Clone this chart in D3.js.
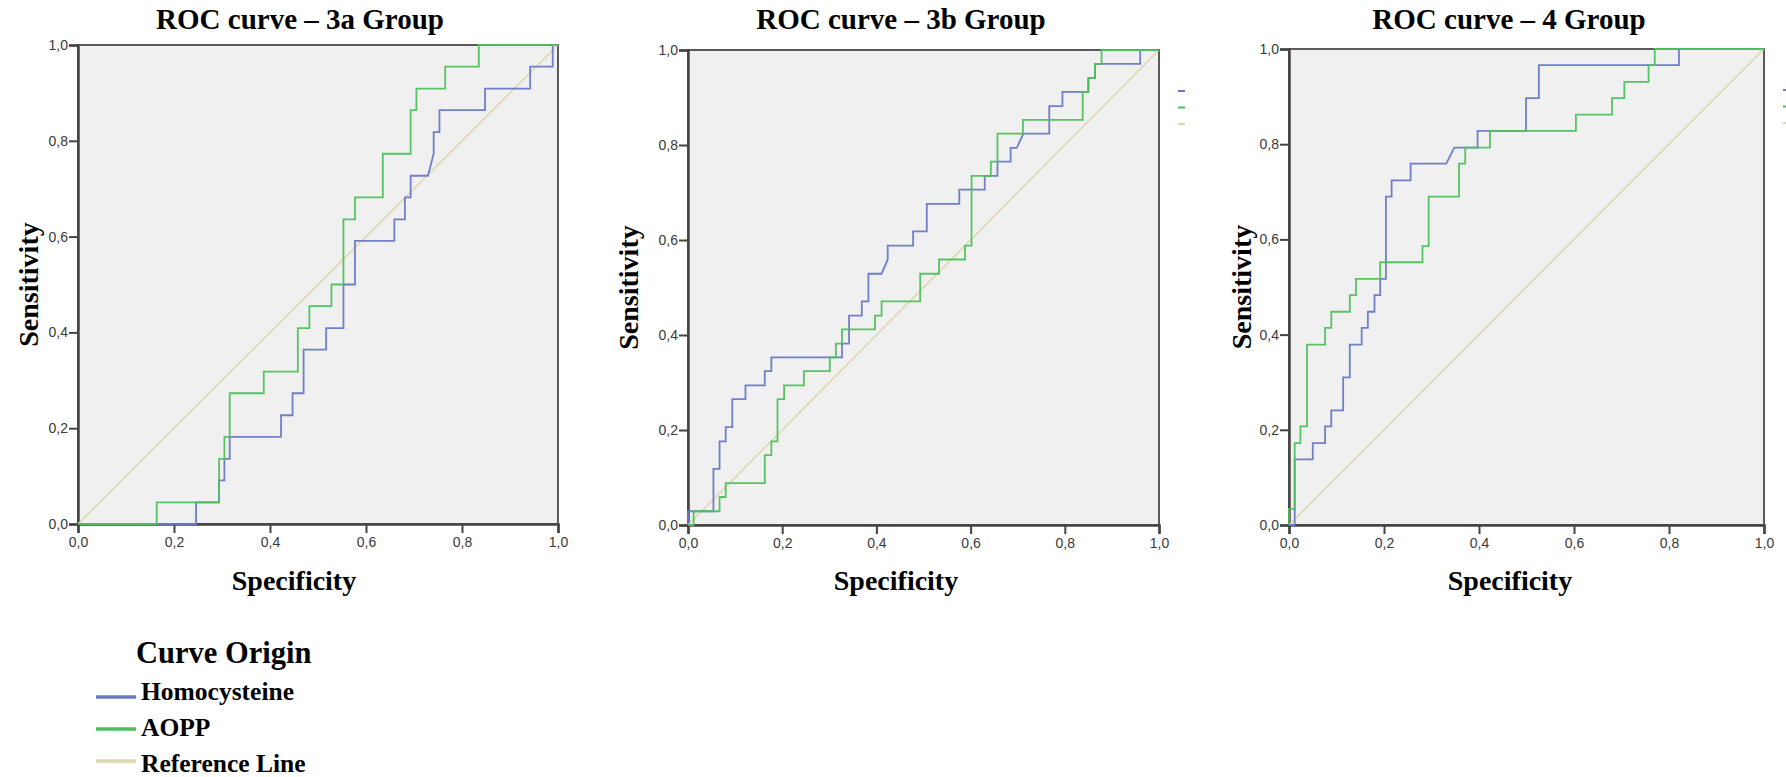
<!DOCTYPE html>
<html>
<head>
<meta charset="utf-8">
<script src="https://cdn.jsdelivr.net/npm/d3@7"></script>
<style>
  body { margin: 0; background: #fff; }
  svg text { font-family: "Liberation Serif", "Times New Roman", serif; font-weight: bold; }
  .tick text { font-family: "Liberation Sans", Arial, sans-serif; font-weight: normal; }
</style>
</head>
<body>
<div id="chart"></div>
<script>
// ******************************** DATA ***************************************
var tickValues = [0, 0.2, 0.4, 0.6, 0.8, 1.0];
var panelTitles = ["ROC curve \u2013 3a Group", "ROC curve \u2013 3b Group", "ROC curve \u2013 4 Group"];
var seriesNames = ["Homocysteine", "AOPP", "Reference Line"];
var seriesColors = ["#6878c6", "#4cc15a", "#ddd8b0"];

// [1 - specificity, sensitivity] vertices
var hcy3a = [[0,0],[0.246,0],[0.246,0.045],[0.294,0.045],[0.294,0.091],[0.305,0.091],[0.305,0.136],
  [0.316,0.136],[0.316,0.182],[0.423,0.182],[0.423,0.227],[0.447,0.227],[0.447,0.273],[0.470,0.273],
  [0.470,0.364],[0.517,0.364],[0.517,0.409],[0.553,0.409],[0.553,0.5],[0.577,0.5],[0.577,0.591],
  [0.659,0.591],[0.659,0.636],[0.681,0.636],[0.681,0.682],[0.693,0.682],[0.693,0.727],[0.729,0.727],
  [0.741,0.773],[0.741,0.818],[0.753,0.818],[0.753,0.864],[0.848,0.864],[0.848,0.909],[0.942,0.909],
  [0.942,0.955],[0.989,0.955],[0.989,1],[1,1]];
var aopp3a = [[0,0],[0.164,0],[0.164,0.045],[0.294,0.045],[0.294,0.136],[0.305,0.136],[0.305,0.182],
  [0.316,0.182],[0.316,0.273],[0.387,0.273],[0.387,0.318],[0.458,0.318],[0.458,0.409],[0.482,0.409],
  [0.482,0.455],[0.528,0.455],[0.528,0.5],[0.553,0.5],[0.553,0.636],[0.577,0.636],[0.577,0.682],
  [0.635,0.682],[0.635,0.773],[0.693,0.773],[0.693,0.864],[0.705,0.864],[0.705,0.909],[0.765,0.909],
  [0.765,0.955],[0.835,0.955],[0.835,1],[1,1]];

var hcy3b = [[0,0],[0,0.029],[0.054,0.029],[0.054,0.118],[0.067,0.118],[0.067,0.176],[0.080,0.176],
  [0.080,0.206],[0.094,0.206],[0.094,0.265],[0.122,0.265],[0.122,0.294],[0.163,0.294],[0.163,0.324],
  [0.177,0.324],[0.177,0.353],[0.327,0.353],[0.327,0.382],[0.342,0.382],[0.342,0.441],[0.369,0.441],
  [0.369,0.471],[0.383,0.471],[0.383,0.529],[0.411,0.529],[0.424,0.559],[0.424,0.588],[0.478,0.588],
  [0.478,0.618],[0.507,0.618],[0.507,0.676],[0.576,0.676],[0.576,0.706],[0.630,0.706],[0.630,0.735],
  [0.657,0.735],[0.657,0.765],[0.685,0.765],[0.685,0.794],[0.698,0.794],[0.712,0.824],[0.767,0.824],
  [0.767,0.882],[0.795,0.882],[0.795,0.912],[0.850,0.912],[0.850,0.941],[0.864,0.941],[0.864,0.971],
  [0.960,0.971],[0.960,1],[1,1]];
var aopp3b = [[0,0],[0.012,0],[0.012,0.029],[0.067,0.029],[0.067,0.059],[0.080,0.059],[0.080,0.088],
  [0.163,0.088],[0.163,0.147],[0.177,0.147],[0.177,0.176],[0.190,0.176],[0.190,0.265],[0.204,0.265],
  [0.204,0.294],[0.246,0.294],[0.246,0.324],[0.301,0.324],[0.301,0.353],[0.314,0.353],[0.314,0.382],
  [0.327,0.382],[0.327,0.412],[0.397,0.412],[0.397,0.441],[0.411,0.441],[0.411,0.471],[0.493,0.471],
  [0.493,0.529],[0.533,0.529],[0.533,0.559],[0.588,0.559],[0.588,0.588],[0.602,0.588],[0.602,0.735],
  [0.643,0.735],[0.643,0.765],[0.657,0.765],[0.657,0.824],[0.711,0.824],[0.711,0.853],[0.838,0.853],
  [0.838,0.912],[0.850,0.912],[0.850,0.941],[0.864,0.941],[0.864,0.971],[0.878,0.971],[0.878,1],[1,1]];

var hcy4 = [[0,0],[0.012,0],[0.012,0.138],[0.050,0.138],[0.050,0.172],[0.076,0.172],[0.076,0.207],
  [0.089,0.207],[0.089,0.241],[0.114,0.241],[0.114,0.310],[0.128,0.310],[0.128,0.379],[0.153,0.379],
  [0.153,0.414],[0.166,0.414],[0.166,0.448],[0.180,0.448],[0.180,0.483],[0.192,0.483],[0.192,0.517],
  [0.204,0.517],[0.204,0.690],[0.216,0.690],[0.216,0.724],[0.256,0.724],[0.256,0.759],[0.331,0.759],
  [0.348,0.793],[0.397,0.793],[0.397,0.828],[0.499,0.828],[0.499,0.897],[0.526,0.897],[0.526,0.966],
  [0.821,0.966],[0.821,1],[1,1]];
var aopp4 = [[0,0],[0,0.034],[0.012,0.034],[0.012,0.172],[0.024,0.172],[0.024,0.207],[0.038,0.207],
  [0.038,0.379],[0.076,0.379],[0.076,0.414],[0.089,0.414],[0.089,0.448],[0.128,0.448],[0.128,0.483],
  [0.141,0.483],[0.141,0.517],[0.192,0.517],[0.192,0.552],[0.281,0.552],[0.281,0.586],[0.294,0.586],
  [0.294,0.690],[0.358,0.690],[0.358,0.759],[0.371,0.759],[0.371,0.793],[0.423,0.793],[0.423,0.828],
  [0.604,0.828],[0.604,0.862],[0.680,0.862],[0.680,0.897],[0.706,0.897],[0.706,0.931],[0.757,0.931],
  [0.757,0.966],[0.770,0.966],[0.770,1],[1,1]];

var referenceLine = [[0,0],[1,1]];

// ***************************** LAYOUT ****************************************
var svgWidth = 1786, svgHeight = 777;

var panels = [
  {title: panelTitles[0], curves: [hcy3a, aopp3a], left: 78, top: 45, width: 480, height: 479,
   titleX: 300, yTitleX: 38, xTitleX: 294, stubs: false},
  {title: panelTitles[1], curves: [hcy3b, aopp3b], left: 688, top: 50, width: 471, height: 475,
   titleX: 901, yTitleX: 638, xTitleX: 896, stubs: true},
  {title: panelTitles[2], curves: [hcy4, aopp4], left: 1289, top: 49, width: 475, height: 476,
   titleX: 1509, yTitleX: 1251, xTitleX: 1510, stubs: true}
];

var svg = d3.select("#chart")
  .append("svg")
    .attr("width", svgWidth)
    .attr("height", svgHeight);

var commaFormat = function(d){ return d3.format(".1f")(d).replace(".", ","); };

panels.forEach(function(p){
  var x = d3.scaleLinear().domain([0, 1]).range([0, p.width]);
  var y = d3.scaleLinear().domain([0, 1]).range([p.height, 0]);

  var g = svg.append("g")
    .attr("transform", `translate(${p.left}, ${p.top})`);

  // plot background / frame
  g.append("rect")
    .attr("width", p.width)
    .attr("height", p.height)
    .attr("fill", "#f0f0f0")
    .attr("stroke", "#5a5a5a")
    .attr("stroke-width", 2);

  // axes
  var xAxis = d3.axisBottom(x).tickValues(tickValues).tickFormat(commaFormat)
    .tickSize(9).tickPadding(4);
  var yAxis = d3.axisLeft(y).tickValues(tickValues).tickFormat(commaFormat)
    .tickSize(9).tickPadding(1);

  var gx = g.append("g")
    .attr("transform", `translate(0, ${p.height})`)
    .call(xAxis);
  var gy = g.append("g").call(yAxis);

  [gx, gy].forEach(function(a){
    a.select(".domain").attr("stroke", "#444").attr("stroke-width", 2.5);
    a.selectAll(".tick line").attr("stroke", "#444").attr("stroke-width", 2);
    a.selectAll(".tick text").attr("fill", "#3a3a3a").style("font-size", "14px");
  });

  var line = d3.line()
    .x(function(d){ return x(d[0]); })
    .y(function(d){ return y(d[1]); });

  // reference diagonal
  g.append("path")
    .datum(referenceLine)
    .attr("d", line)
    .attr("fill", "none")
    .attr("stroke", seriesColors[2])
    .attr("stroke-width", 1.6);

  // curves
  p.curves.forEach(function(c, i){
    g.append("path")
      .datum(c)
      .attr("d", line)
      .attr("fill", "none")
      .attr("stroke", seriesColors[i])
      .attr("stroke-width", 1.8)
      .attr("opacity", 0.95);
  });

  // panel title
  svg.append("text")
    .attr("x", p.titleX)
    .attr("y", 29)
    .attr("text-anchor", "middle")
    .style("font-size", "29px")
    .text(p.title);

  // y title
  svg.append("text")
    .attr("transform", `translate(${p.yTitleX}, ${p.top + p.height / 2}) rotate(-90)`)
    .attr("text-anchor", "middle")
    .style("font-size", "28px")
    .text("Sensitivity");

  // x title
  svg.append("text")
    .attr("x", p.xTitleX)
    .attr("y", 590)
    .attr("text-anchor", "middle")
    .style("font-size", "28px")
    .text("Specificity");

  // clipped legend stubs at the right of panels 2 and 3
  if (p.stubs){
    seriesColors.forEach(function(col, i){
      g.append("line")
        .attr("x1", p.width + 19)
        .attr("x2", p.width + 26)
        .attr("y1", 41 + i * 16.5)
        .attr("y2", 41 + i * 16.5)
        .attr("stroke", col)
        .attr("stroke-width", 2);
    });
  }
});

// ***************************** LEGEND ****************************************
var legend = svg.append("g");

legend.append("text")
  .attr("x", 136)
  .attr("y", 663)
  .style("font-size", "30.5px")
  .text("Curve Origin");

seriesNames.forEach(function(name, i){
  legend.append("line")
    .attr("x1", 96)
    .attr("x2", 136)
    .attr("y1", 697 + i * 32)
    .attr("y2", 697 + i * 32)
    .attr("stroke", seriesColors[i])
    .attr("stroke-width", 3.5);
  legend.append("text")
    .attr("x", 141)
    .attr("y", 700 + i * 36)
    .style("font-size", "25.5px")
    .text(name);
});
</script>
</body>
</html>
